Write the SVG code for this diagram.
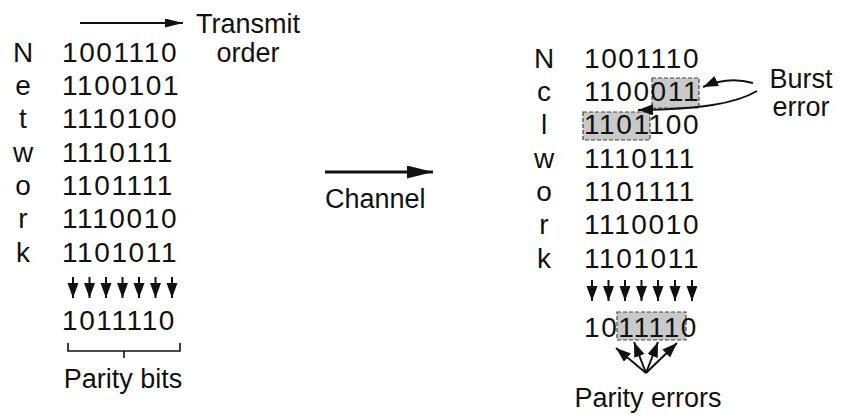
<svg xmlns="http://www.w3.org/2000/svg" width="848" height="418" viewBox="0 0 848 418">
<style>
text{font-family:"Liberation Sans",Arial,sans-serif;fill:#111}
.bits{font-size:28px;letter-spacing:1.6px}
.lbl{font-size:28px;text-anchor:middle}
.cap{font-size:27px}
.ln{stroke:#111;stroke-width:2;fill:none}
.box{fill:#c9c9c9;stroke:#444;stroke-width:1.2;stroke-dasharray:4,2}
</style>
<defs>
<marker id="ah" markerUnits="userSpaceOnUse" markerWidth="16" markerHeight="12" refX="15" refY="5.5" orient="auto"><path d="M0,0L15,5.5L0,11z" fill="#111"/></marker>
<marker id="ahb" markerUnits="userSpaceOnUse" markerWidth="26" markerHeight="14" refX="26" refY="6.5" orient="auto"><path d="M0,0L26,6.5L0,13z" fill="#111"/></marker>
<marker id="aht" markerUnits="userSpaceOnUse" markerWidth="18" markerHeight="10" refX="18" refY="4.5" orient="auto"><path d="M0,0L18,4.5L0,9z" fill="#111"/></marker>
</defs>

<g id="left-block">
<text class="lbl" x="23" y="62">N</text>
<text class="lbl" x="23" y="95">e</text>
<text class="lbl" x="23" y="128">t</text>
<text class="lbl" x="23" y="162">w</text>
<text class="lbl" x="23" y="195">o</text>
<text class="lbl" x="23" y="228">r</text>
<text class="lbl" x="23" y="262">k</text>
<text class="bits" x="62" y="62">1001110</text>
<text class="bits" x="62" y="95">1100101</text>
<text class="bits" x="62" y="128">1110100</text>
<text class="bits" x="62" y="162">1110111</text>
<text class="bits" x="62" y="195">1101111</text>
<text class="bits" x="62" y="228">1110010</text>
<text class="bits" x="62" y="262">1101011</text>
<text class="bits" x="62" y="330">1011110</text>
</g>

<g id="transmit-order">
<text class="cap" x="196" y="33">Transmit</text>
<text class="cap" x="248" y="62" text-anchor="middle">order</text>
</g>

<g id="parity-bits">
<path class="ln" style="stroke-width:1.6" d="M68,343V351H180V343M124,351V358"/>
<text class="cap" x="123" y="388" text-anchor="middle">Parity bits</text>
</g>

<g id="channel">
<text class="cap" x="325" y="208">Channel</text>
</g>

<g id="right-block">
<rect class="box" x="652" y="78" width="47" height="30"/>
<rect class="box" x="583" y="112" width="67" height="28"/>
<rect class="box" x="617" y="312" width="69" height="28"/>
<text class="lbl" x="544" y="68">N</text>
<text class="lbl" x="544" y="101">c</text>
<text class="lbl" x="544" y="134">l</text>
<text class="lbl" x="544" y="168">w</text>
<text class="lbl" x="544" y="201">o</text>
<text class="lbl" x="544" y="234">r</text>
<text class="lbl" x="544" y="268">k</text>
<text class="bits" x="584" y="68">1001110</text>
<text class="bits" x="584" y="101">1100011</text>
<text class="bits" x="584" y="134">1101100</text>
<text class="bits" x="584" y="168">1110111</text>
<text class="bits" x="584" y="201">1101111</text>
<text class="bits" x="584" y="234">1110010</text>
<text class="bits" x="584" y="268">1101011</text>
<text class="bits" x="584" y="337">1011110</text>
</g>

<g id="burst-error">
<text class="cap" x="801" y="88" text-anchor="middle">Burst</text>
<text class="cap" x="801" y="116" text-anchor="middle">error</text>
</g>

<g id="parity-errors">
<text class="cap" x="648" y="407" text-anchor="middle">Parity errors</text>
</g>

<g id="connectors">
<line class="ln" x1="80" y1="23" x2="183" y2="23" marker-end="url(#aht)"/>
<line class="ln" style="stroke-width:3" x1="325" y1="172" x2="433" y2="172" marker-end="url(#ahb)"/>
<g class="ln">
<line x1="73" y1="277" x2="73" y2="298" marker-end="url(#ah)"/>
<line x1="89.5" y1="277" x2="89.5" y2="298" marker-end="url(#ah)"/>
<line x1="106" y1="277" x2="106" y2="298" marker-end="url(#ah)"/>
<line x1="122.5" y1="277" x2="122.5" y2="298" marker-end="url(#ah)"/>
<line x1="139" y1="277" x2="139" y2="298" marker-end="url(#ah)"/>
<line x1="155.5" y1="277" x2="155.5" y2="298" marker-end="url(#ah)"/>
<line x1="172" y1="277" x2="172" y2="298" marker-end="url(#ah)"/>
<line x1="592" y1="280" x2="592" y2="301" marker-end="url(#ah)"/>
<line x1="608.5" y1="280" x2="608.5" y2="301" marker-end="url(#ah)"/>
<line x1="625" y1="280" x2="625" y2="301" marker-end="url(#ah)"/>
<line x1="641.5" y1="280" x2="641.5" y2="301" marker-end="url(#ah)"/>
<line x1="658" y1="280" x2="658" y2="301" marker-end="url(#ah)"/>
<line x1="675" y1="280" x2="675" y2="301" marker-end="url(#ah)"/>
<line x1="692" y1="280" x2="692" y2="301" marker-end="url(#ah)"/>
</g>
<path class="ln" d="M753,83Q728,76 703,87" marker-end="url(#ah)"/>
<path class="ln" d="M757,91C735,104 700,109 638,110" marker-end="url(#ah)"/>
<g class="ln">
<line x1="646" y1="373" x2="616" y2="348" marker-end="url(#ah)"/>
<line x1="646" y1="373" x2="634" y2="342" marker-end="url(#ah)"/>
<line x1="646" y1="373" x2="658" y2="342" marker-end="url(#ah)"/>
<line x1="646" y1="373" x2="677" y2="343" marker-end="url(#ah)"/>
</g>
</g>
</svg>
